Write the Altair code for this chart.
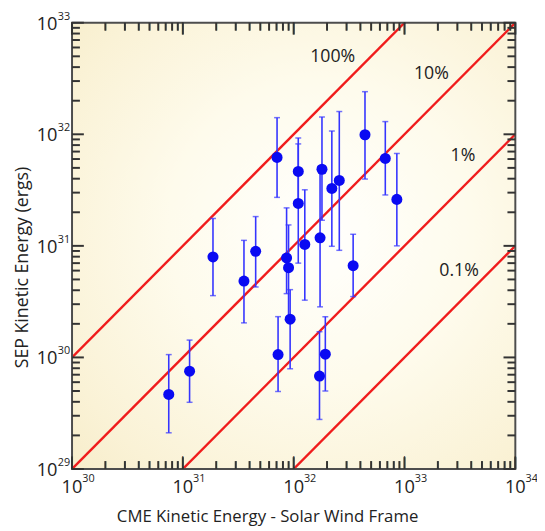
import altair as alt
import pandas as pd

# ---------------- data ----------------
CME_KE = [7.46e30, 1.15e31, 1.87e31, 3.56e31, 4.54e31, 7.08e31, 7.23e31, 8.63e31, 8.99e31, 9.29e31,
          1.10e32, 1.10e32, 1.26e32, 1.73e32, 1.71e32, 1.80e32, 1.93e32, 2.21e32, 2.58e32, 3.44e32,
          4.40e32, 6.71e32, 8.53e32]
SEP_KE = [4.66e29, 7.53e29, 7.96e30, 4.83e30, 8.93e30, 6.21e31, 1.06e30, 7.80e30, 6.37e30, 2.20e30,
          4.65e31, 2.40e31, 1.03e31, 1.18e31, 6.81e29, 4.86e31, 1.07e30, 3.27e31, 3.86e31, 6.64e30,
          9.91e31, 6.08e31, 2.61e31]
SEP_HI = [1.06e30, 1.43e30, 1.76e31, 1.12e31, 1.83e31, 1.41e32, 2.32e30, 2.19e31, 1.54e31, 4.05e30,
          9.27e31, 8.20e31, 3.18e31, 5.14e31, 1.70e30, 1.43e32, 2.32e30, 1.07e32, 1.60e32, 1.27e31,
          2.41e32, 1.30e32, 6.73e31]
SEP_LO = [2.11e29, 3.96e29, 3.58e30, 2.04e30, 4.28e30, 2.72e31, 4.95e29, 3.73e30, 2.29e30, 7.91e29,
          2.52e31, 7.00e30, 3.26e30, 2.84e30, 2.78e29, 1.70e31, 5.01e29, 9.91e30, 9.12e30, 3.51e30,
          3.97e31, 2.86e31, 1.00e31]

RATIOS = [1, 0.1, 0.01, 0.001]
RATIO_LABELS = ["100%", "10%", "1%", "0.1%"]
RATIO_LABEL_X = [2.25e32, 1.75e33, 3.37e33, 3.11e33]
RATIO_LABEL_Y = [4.91e32, 3.44e32, 6.43e31, 5.96e30]

X_DOMAIN = [1e30, 1e34]
Y_DOMAIN = [1e29, 1e33]
X_MAJOR = [1e30, 1e31, 1e32, 1e33, 1e34]
X_EXP = ["30", "31", "32", "33", "34"]
Y_MAJOR = [1e29, 1e30, 1e31, 1e32, 1e33]
Y_EXP = ["29", "30", "31", "32", "33"]
X_MINOR = [k * 10.0 ** d for d in range(30, 34) for k in range(2, 10)]
Y_MINOR = [k * 10.0 ** d for d in range(29, 33) for k in range(2, 10)]

X_TITLE = "CME Kinetic Energy - Solar Wind Frame"
Y_TITLE = "SEP Kinetic Energy (ergs)"

# ---------------- style ----------------
W, H = 450, 453
FONT = "Open Sans"
TXT = "#222222"
TICK = "#333333"
RED = "#f01c1c"
PT = "#0a0af2"
ERR = "#3434ff"
MAJOR_LEN, MINOR_LEN = 12, 8          # inward tick lengths in pixels

xs = alt.Scale(type="log", domain=X_DOMAIN, nice=False)
ys = alt.Scale(type="log", domain=Y_DOMAIN, nice=False)

df = pd.DataFrame({"cme": CME_KE, "sep": SEP_KE, "lo": SEP_LO, "hi": SEP_HI})

line_rows = []
for r, lab in zip(RATIOS, RATIO_LABELS):
    for xv in X_DOMAIN:
        line_rows.append({"x": xv, "y": xv * r, "label": lab})
lines_df = pd.DataFrame(line_rows)

pct_df = pd.DataFrame({"x": RATIO_LABEL_X, "y": RATIO_LABEL_Y, "label": RATIO_LABELS})
xt_df = pd.DataFrame({"v": X_MAJOR, "e": X_EXP})
yt_df = pd.DataFrame({"v": Y_MAJOR, "e": Y_EXP})
xmin_df = pd.DataFrame({"v": X_MINOR, "e": [""] * len(X_MINOR)})
one = pd.DataFrame({"a": [0]})

# tick segments: pixel lengths turned into log-scale factors of the fixed domains
fy = lambda px: 10 ** (px / (H / 4))
fx = lambda px: 10 ** (px / (W / 4))
xtick_rows = []
for vals, L in ((X_MAJOR, MAJOR_LEN), (X_MINOR, MINOR_LEN)):
    for v in vals:
        xtick_rows.append({"tx": v, "ty": Y_DOMAIN[0], "ty2": Y_DOMAIN[0] * fy(L)})
        xtick_rows.append({"tx": v, "ty": Y_DOMAIN[1], "ty2": Y_DOMAIN[1] / fy(L)})
ytick_rows = []
for vals, L in ((Y_MAJOR, MAJOR_LEN), (Y_MINOR, MINOR_LEN)):
    for v in vals:
        ytick_rows.append({"ty": v, "tx": X_DOMAIN[0], "tx2": X_DOMAIN[0] * fx(L)})
        ytick_rows.append({"ty": v, "tx": X_DOMAIN[1], "tx2": X_DOMAIN[1] / fx(L)})
xtick_df = pd.DataFrame(xtick_rows)
ytick_df = pd.DataFrame(ytick_rows)

grad = alt.RadialGradient(
    gradient="radial",
    stops=[alt.GradientStop(color="#fffffd", offset=0),
           alt.GradientStop(color="#fefbec", offset=0.4),
           alt.GradientStop(color="#faf2d6", offset=0.75),
           alt.GradientStop(color="#f5eac4", offset=1)],
    x1=0.56, y1=0.47, r1=0, x2=0.56, y2=0.47, r2=0.85,
)

bg = alt.Chart(one).mark_rect(fill=grad, strokeWidth=0).encode(
    x=alt.XDatum(X_DOMAIN[0], scale=xs, axis=alt.Axis(
        orient="bottom", ticks=False, labels=False, domain=False, grid=False,
        title=X_TITLE, titleFont=FONT, titleFontSize=17, titleFontWeight="normal",
        titleColor=TXT, titleX=198, titleY=53, titleAlign="center",
        titleBaseline="alphabetic")),
    x2=alt.X2Datum(X_DOMAIN[1]),
    y=alt.YDatum(Y_DOMAIN[0], scale=ys, axis=alt.Axis(
        orient="left", ticks=False, labels=False, domain=False, grid=False,
        title=Y_TITLE, titleFont=FONT, titleFontSize=18, titleFontWeight="normal",
        titleColor=TXT, titleX=-45, titleY=248, titleAngle=270, titleAlign="center",
        titleBaseline="alphabetic")),
    y2=alt.Y2Datum(Y_DOMAIN[1]),
)

lines = alt.Chart(lines_df).mark_line(clip=True, color=RED, strokeWidth=2.4).encode(
    x=alt.X("x:Q", scale=xs, axis=None),
    y=alt.Y("y:Q", scale=ys, axis=None),
    detail="label:N",
)

rules = alt.Chart(df).mark_rule(color=ERR, strokeWidth=1.6).encode(
    x=alt.X("cme:Q", scale=xs, axis=None),
    y=alt.Y("lo:Q", scale=ys, axis=None),
    y2="hi:Q",
)

caps = alt.Chart(df).transform_fold(["lo", "hi"], as_=["which", "cap"]).mark_tick(
    orient="horizontal", size=6, thickness=1.5, color=ERR).encode(
    x=alt.X("cme:Q", scale=xs, axis=None),
    y=alt.Y("cap:Q", scale=ys, axis=None),
)

points = alt.Chart(df).mark_circle(size=125, color=PT, opacity=1).encode(
    x=alt.X("cme:Q", scale=xs, axis=None),
    y=alt.Y("sep:Q", scale=ys, axis=None),
)

pct = alt.Chart(pct_df).mark_text(font=FONT, fontSize=18, color=TXT, align="center",
                                  baseline="middle").encode(
    x=alt.X("x:Q", scale=xs, axis=None),
    y=alt.Y("y:Q", scale=ys, axis=None),
    text="label:N",
)

xl_base = alt.Chart(xt_df).mark_text(text="10", font=FONT, fontSize=18.5, color=TXT,
                                     align="center", baseline="alphabetic", dy=24.5).encode(
    x=alt.X("v:Q", scale=xs, axis=None),
    y=alt.YDatum(Y_DOMAIN[0], scale=ys, axis=None),
)
xl_exp = alt.Chart(xt_df).mark_text(font=FONT, fontSize=11, color=TXT, align="left",
                                    baseline="alphabetic", dx=10.4, dy=13.3).encode(
    x=alt.X("v:Q", scale=xs, axis=None),
    y=alt.YDatum(Y_DOMAIN[0], scale=ys, axis=None),
    text="e:N",
)
yl_base = alt.Chart(yt_df).mark_text(text="10", font=FONT, fontSize=18.5, color=TXT,
                                     align="right", baseline="alphabetic", dx=-14.7, dy=7).encode(
    x=alt.XDatum(X_DOMAIN[0], scale=xs, axis=None),
    y=alt.Y("v:Q", scale=ys, axis=None),
)
yl_exp = alt.Chart(yt_df).mark_text(font=FONT, fontSize=11, color=TXT, align="left",
                                    baseline="alphabetic", dx=-14.4, dy=-3).encode(
    x=alt.XDatum(X_DOMAIN[0], scale=xs, axis=None),
    y=alt.Y("v:Q", scale=ys, axis=None),
    text="e:N",
)

frame = alt.Chart(one).mark_rect(filled=False, stroke="#4d4d4d", strokeWidth=2).encode(
    x=alt.XDatum(X_DOMAIN[0], scale=xs, axis=None),
    x2=alt.X2Datum(X_DOMAIN[1]),
    y=alt.YDatum(Y_DOMAIN[0], scale=ys, axis=None),
    y2=alt.Y2Datum(Y_DOMAIN[1]),
)

# inward ticks as rule segments
xticks = alt.Chart(xtick_df).mark_rule(color=TICK, strokeWidth=2, opacity=1).encode(
    x=alt.X("tx:Q", scale=xs, axis=None),
    y=alt.Y("ty:Q", scale=ys, axis=None),
    y2="ty2:Q",
)
yticks = alt.Chart(ytick_df).mark_rule(color=TICK, strokeWidth=2, opacity=1).encode(
    y=alt.Y("ty:Q", scale=ys, axis=None),
    x=alt.X("tx:Q", scale=xs, axis=None),
    x2="tx2:Q",
)


# inward ticks on top / bottom edges also as thin bar glyphs (render reliably)
def bar_glyphs(data, edge, size, base):
    return alt.Chart(data).mark_text(text="|", font="DejaVu Sans", fontSize=size,
                                     color=TICK, align="center", baseline=base).encode(
        x=alt.X("v:Q", scale=xs, axis=None),
        y=alt.YDatum(edge, scale=ys, axis=None),
    )


glyph_ticks = [
    bar_glyphs(xt_df, Y_DOMAIN[1], MAJOR_LEN, "top"),
    bar_glyphs(xmin_df, Y_DOMAIN[1], MINOR_LEN, "top"),
    bar_glyphs(xt_df, Y_DOMAIN[0], MAJOR_LEN, "bottom"),
    bar_glyphs(xmin_df, Y_DOMAIN[0], MINOR_LEN, "bottom"),
]

chart = alt.layer(
    bg, lines, rules, caps, points, pct,
    xl_base, xl_exp, yl_base, yl_exp, frame, xticks, yticks, *glyph_ticks
).resolve_axis(x="independent", y="independent").properties(
    width=W, height=H,
    autosize=alt.AutoSizeParams(type="none"),
    padding={"left": 65, "top": 11, "right": 22, "bottom": 59},
    background="white",
).configure_view(strokeWidth=0)

chart.save("out.html", embed_options={"renderer": "svg", "actions": False})
